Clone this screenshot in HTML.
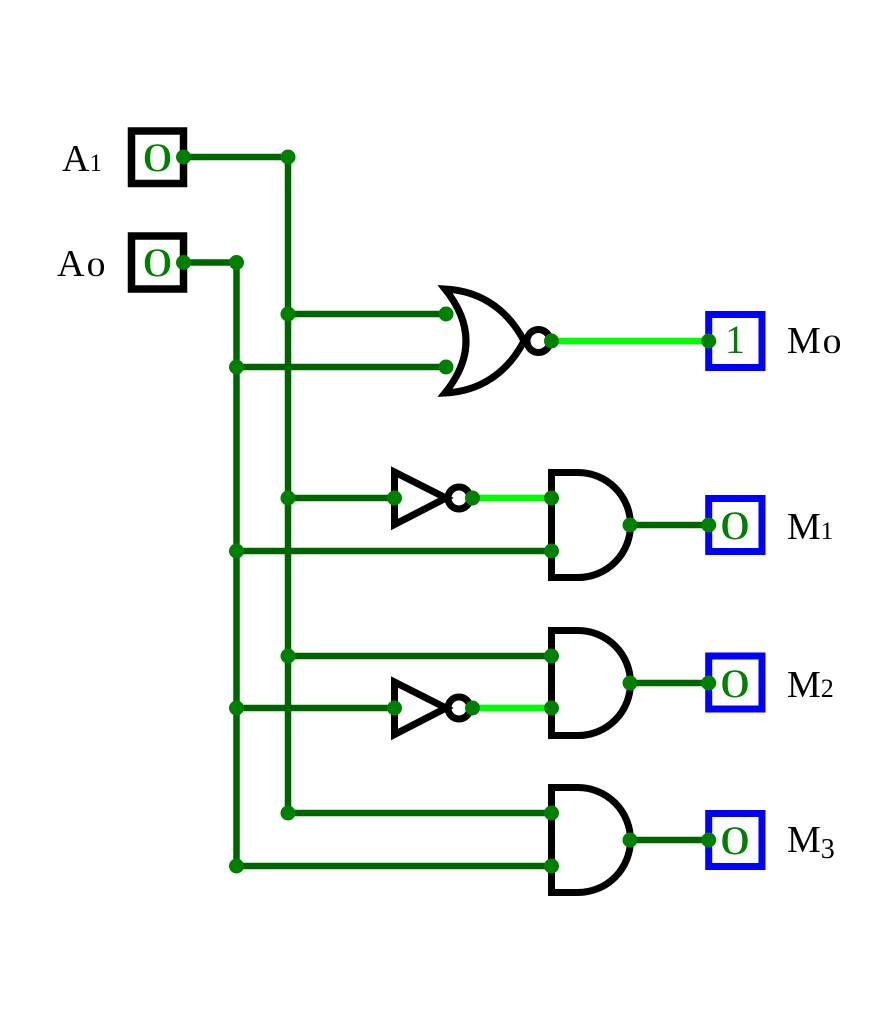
<!DOCTYPE html>
<html>
<head>
<meta charset="utf-8">
<style>
html,body{margin:0;padding:0;background:#fff;}
svg{display:block;}
text{font-family:"Liberation Serif","DejaVu Serif",serif;}
</style>
</head>
<body>
<svg width="893" height="1024" viewBox="0 0 893 1024" xmlns="http://www.w3.org/2000/svg">
<rect width="893" height="1024" fill="#fff"/>

<!-- dark green wires -->
<g stroke="#006400" stroke-width="6.5" fill="none" stroke-linecap="butt">
  <path d="M183,157 H288 V813"/>
  <path d="M183,262.5 H236.5 V866"/>
  <path d="M288,314 H446"/>
  <path d="M236.5,367 H446"/>
  <path d="M288,498 H394"/>
  <path d="M236.5,551 H551"/>
  <path d="M288,656 H551"/>
  <path d="M236.5,708 H394"/>
  <path d="M288,813 H551"/>
  <path d="M236.5,866 H551"/>
  <path d="M630,525 H709"/>
  <path d="M630,683 H709"/>
  <path d="M630,840 H709"/>
</g>
<!-- bright green wires -->
<g stroke="#00ff00" stroke-width="6.5" fill="none">
  <path d="M552,341 H709"/>
  <path d="M473,498 H551"/>
  <path d="M473,708 H551"/>
</g>

<!-- gates -->
<g stroke="#000" stroke-width="7" fill="none" stroke-linejoin="miter">
  <!-- NOR -->
  <path d="M445,289 Q487,341 445,393 C485,391 510,368 524,341 C510,314 485,291 445,289 Z"/>
  <circle cx="538.5" cy="341" r="11.5"/>
  <!-- NOT 1 -->
  <path d="M394.5,472 L446,498 L394.5,524.5 Z"/>
  <circle cx="459" cy="498" r="11"/>
  <!-- NOT 2 -->
  <path d="M394.5,682 L446,708 L394.5,734.5 Z"/>
  <circle cx="459" cy="708" r="11"/>
  <!-- AND 1 -->
  <path d="M551.5,472.5 H578 A52.5,52.5 0 0 1 578,577.5 H551.5 Z"/>
  <!-- AND 2 -->
  <path d="M551.5,630.5 H578 A52.5,52.5 0 0 1 578,735.5 H551.5 Z"/>
  <!-- AND 3 -->
  <path d="M551.5,787.5 H578 A52.5,52.5 0 0 1 578,892.5 H551.5 Z"/>
</g>

<!-- input boxes -->
<g stroke="#000" stroke-width="7.5" fill="#fff">
  <rect x="131.5" y="131" width="52" height="52.5"/>
  <rect x="131.5" y="236" width="52" height="53"/>
</g>
<!-- output boxes -->
<g stroke="#0000ff" stroke-width="7" fill="#fff">
  <rect x="708.7" y="314.5" width="53.3" height="53"/>
  <rect x="708.7" y="498.5" width="53.3" height="53"/>
  <rect x="708.7" y="656" width="53.3" height="53"/>
  <rect x="708.7" y="813.5" width="53.3" height="53"/>
</g>

<!-- junction / pin dots -->
<g fill="#008000">
  <circle cx="183.5" cy="157" r="7.5"/>
  <circle cx="288" cy="157" r="7.5"/>
  <circle cx="183.5" cy="262.5" r="7.5"/>
  <circle cx="236.5" cy="262.5" r="7.5"/>
  <circle cx="288" cy="314" r="7.5"/>
  <circle cx="446" cy="314" r="7.5"/>
  <circle cx="236.5" cy="367" r="7.5"/>
  <circle cx="446" cy="367" r="7.5"/>
  <circle cx="551.5" cy="341" r="7.5"/>
  <circle cx="708.7" cy="341" r="7.5"/>
  <circle cx="288" cy="498" r="7.5"/>
  <circle cx="394.5" cy="498" r="7.5"/>
  <circle cx="472.5" cy="498" r="7.5"/>
  <circle cx="551.5" cy="498" r="7.5"/>
  <circle cx="236.5" cy="551" r="7.5"/>
  <circle cx="551.5" cy="551" r="7.5"/>
  <circle cx="630" cy="525" r="7.5"/>
  <circle cx="708.7" cy="525" r="7.5"/>
  <circle cx="288" cy="656" r="7.5"/>
  <circle cx="551.5" cy="656" r="7.5"/>
  <circle cx="236.5" cy="708" r="7.5"/>
  <circle cx="394.5" cy="708" r="7.5"/>
  <circle cx="472.5" cy="708" r="7.5"/>
  <circle cx="551.5" cy="708" r="7.5"/>
  <circle cx="630" cy="683" r="7.5"/>
  <circle cx="708.7" cy="683" r="7.5"/>
  <circle cx="288" cy="813" r="7.5"/>
  <circle cx="551.5" cy="813" r="7.5"/>
  <circle cx="236.5" cy="866" r="7.5"/>
  <circle cx="551.5" cy="866" r="7.5"/>
  <circle cx="630" cy="840" r="7.5"/>
  <circle cx="708.7" cy="840" r="7.5"/>
</g>

<!-- box values -->
<g fill="#008000" font-size="40" text-anchor="middle">
  <text transform="translate(157.5,171) scale(1.5,1)">0</text>
  <text transform="translate(157.5,276) scale(1.5,1)">0</text>
  <text x="735" y="353">1</text>
  <text transform="translate(735,539) scale(1.5,1)">0</text>
  <text transform="translate(735,697) scale(1.5,1)">0</text>
  <text transform="translate(735,854) scale(1.5,1)">0</text>
</g>

<!-- labels -->
<g fill="#000" font-size="38">
  <text x="62" y="171">A<tspan font-size="25">1</tspan></text>
  <text x="57" y="276">A</text>
  <text transform="translate(96,276) scale(1.45,1)" font-size="26" text-anchor="middle">0</text>
  <text x="787" y="353">M</text>
  <text transform="translate(832,353) scale(1.45,1)" font-size="26" text-anchor="middle">0</text>
  <text x="787" y="539">M<tspan font-size="25">1</tspan></text>
  <text x="787" y="697">M<tspan font-size="26">2</tspan></text>
  <text x="787" y="852">M<tspan font-size="28" dy="6">3</tspan></text>
</g>
</svg>
</body>
</html>
